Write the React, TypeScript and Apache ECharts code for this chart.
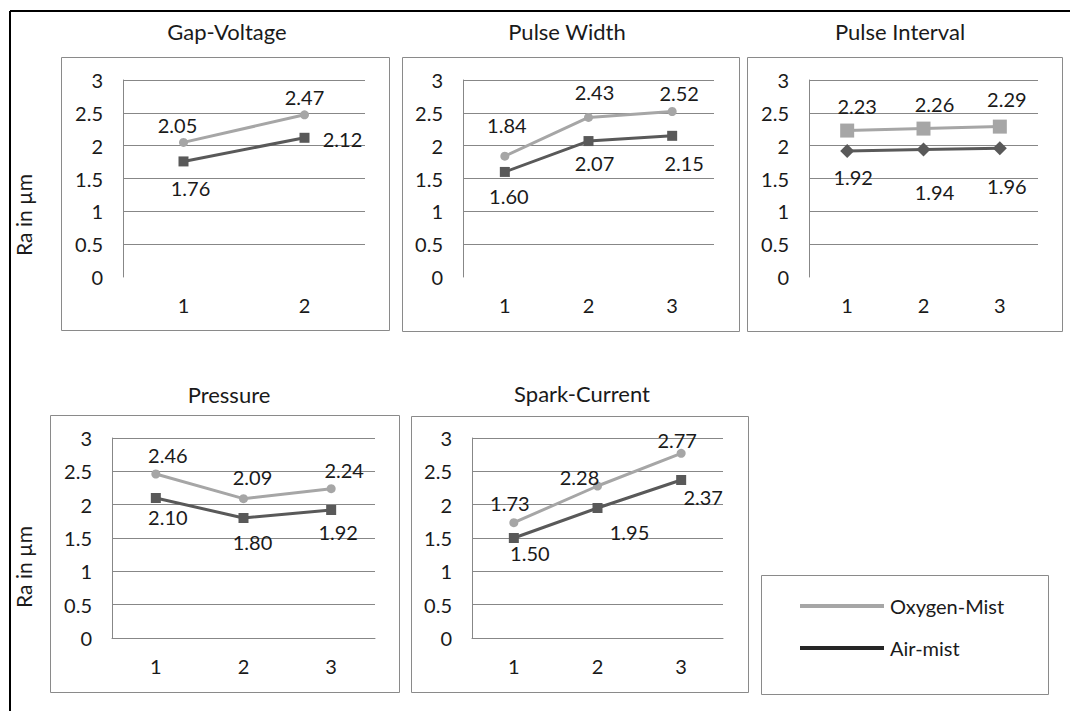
import React, { useEffect, useRef } from "react";
import * as echarts from "echarts";

const cats2 = ["1", "2"];
const cats3 = ["1", "2", "3"];

const gapOxygen = [2.05, 2.47];
const gapAir = [1.76, 2.12];
const pwOxygen = [1.84, 2.43, 2.52];
const pwAir = [1.6, 2.07, 2.15];
const piOxygen = [2.23, 2.26, 2.29];
const piAir = [1.92, 1.94, 1.96];
const prOxygen = [2.46, 2.09, 2.24];
const prAir = [2.1, 1.8, 1.92];
const scOxygen = [1.73, 2.28, 2.77];
const scAir = [1.5, 1.95, 2.37];

const seriesNames = ["Oxygen-Mist", "Air-mist"];
const titles = ["Gap-Voltage", "Pulse Width", "Pulse Interval", "Pressure", "Spark-Current"];
const yAxisTitle = "Ra in \u00b5m";

const FONT = "Lato";
const TXT = "#1a1a1a";
const OXY = "#a6a6a6";
const AIR = "#595959";
const GRIDC = "#878787";

type Panel = {
  title: string;
  cats: string[];
  oxy: number[];
  air: number[];
  grid: { left: number; top: number; width: number; height: number };
  box: [number, number, number, number];
  titleXY: [number, number];
  oxySym: string;
  airSym: string;
  oxySize: number;
  airSize: number;
  oxyOff: [number, number][];
  airOff: [number, number][];
  zeroLine: boolean;
};

const panels: Panel[] = [
  {
    title: titles[0], cats: cats2, oxy: gapOxygen, air: gapAir,
    grid: { left: 123, top: 80, width: 242, height: 197 },
    box: [61, 57, 328, 273], titleXY: [227, 31],
    oxySym: "circle", airSym: "rect", oxySize: 9, airSize: 10,
    oxyOff: [[-6, -17], [0, -18]], airOff: [[7, 27], [38, 1]], zeroLine: false,
  },
  {
    title: titles[1], cats: cats3, oxy: pwOxygen, air: pwAir,
    grid: { left: 463, top: 80, width: 251, height: 197 },
    box: [402, 57, 337, 274], titleXY: [567, 31],
    oxySym: "circle", airSym: "rect", oxySize: 9, airSize: 10,
    oxyOff: [[2, -31], [6, -25], [7, -19]], airOff: [[4, 24], [6, 22], [12, 27]], zeroLine: false,
  },
  {
    title: titles[2], cats: cats3, oxy: piOxygen, air: piAir,
    grid: { left: 809, top: 80, width: 229, height: 197 },
    box: [747, 57, 315, 274], titleXY: [900, 31],
    oxySym: "rect", airSym: "diamond", oxySize: 14, airSize: 14,
    oxyOff: [[10, -25], [11, -25], [7, -28]], airOff: [[6, 26], [11, 42], [7, 38]], zeroLine: false,
  },
  {
    title: titles[3], cats: cats3, oxy: prOxygen, air: prAir,
    grid: { left: 112, top: 438, width: 263, height: 200 },
    box: [50, 415, 349, 277], titleXY: [229, 394],
    oxySym: "circle", airSym: "rect", oxySize: 9, airSize: 10,
    oxyOff: [[12, -19], [9, -22], [13, -19]], airOff: [[12, 19], [9, 24], [7, 22]], zeroLine: true,
  },
  {
    title: titles[4], cats: cats3, oxy: scOxygen, air: scAir,
    grid: { left: 472, top: 438, width: 251, height: 200 },
    box: [411, 416, 337, 276], titleXY: [582, 393],
    oxySym: "circle", airSym: "rect", oxySize: 9, airSize: 10,
    oxyOff: [[-4, -20], [-18, -9], [-4, -13]], airOff: [[16, 15], [32, 24], [22, 17]], zeroLine: true,
  },
];

function buildOption() {
  const grid: any[] = [];
  const xAxis: any[] = [];
  const yAxis: any[] = [];
  const series: any[] = [];
  const graphic: any[] = [];

  // outer border (top and left only visible)
  graphic.push({ type: "line", shape: { x1: 10, y1: 11, x2: 1070, y2: 11 }, style: { stroke: "#000", lineWidth: 2 } });
  graphic.push({ type: "line", shape: { x1: 10, y1: 11, x2: 10, y2: 711 }, style: { stroke: "#000", lineWidth: 2 } });

  const labelBase = {
    show: true,
    position: "inside",
    fontFamily: FONT,
    fontSize: 20,
    color: TXT,
    formatter: (p: any) => Number(p.value).toFixed(2),
  };

  panels.forEach((p, i) => {
    grid.push({ ...p.grid });
    xAxis.push({
      type: "category",
      gridIndex: i,
      data: p.cats,
      boundaryGap: true,
      axisTick: { show: false },
      axisLine: { show: p.zeroLine, lineStyle: { color: GRIDC, width: 1 } },
      axisLabel: { fontFamily: FONT, fontSize: 20, color: TXT, margin: 18 },
    });
    yAxis.push({
      type: "value",
      gridIndex: i,
      min: 0,
      max: 3,
      interval: 0.5,
      axisTick: { show: false },
      axisLine: { show: true, lineStyle: { color: GRIDC, width: 1 } },
      axisLabel: { fontFamily: FONT, fontSize: 20, color: TXT, margin: 20 },
      splitLine: { show: true, showMinLine: p.zeroLine, lineStyle: { color: GRIDC, width: 1 } },
    });
    series.push({
      type: "line",
      name: seriesNames[0],
      xAxisIndex: i,
      yAxisIndex: i,
      data: p.oxy.map((v, k) => ({ value: v, label: { offset: p.oxyOff[k] } })),
      symbol: p.oxySym,
      symbolSize: p.oxySize,
      lineStyle: { color: OXY, width: 3 },
      itemStyle: { color: OXY },
      label: labelBase,
      z: 3,
    });
    series.push({
      type: "line",
      name: seriesNames[1],
      xAxisIndex: i,
      yAxisIndex: i,
      data: p.air.map((v, k) => ({ value: v, label: { offset: p.airOff[k] } })),
      symbol: p.airSym,
      symbolSize: p.airSize,
      lineStyle: { color: AIR, width: 3 },
      itemStyle: { color: AIR },
      label: labelBase,
      z: 4,
    });
    const [bx, by, bw, bh] = p.box;
    graphic.push({
      type: "rect",
      shape: { x: bx + 0.5, y: by + 0.5, width: bw, height: bh },
      style: { fill: "none", stroke: "#8a8a8a", lineWidth: 1 },
      silent: true,
      z: 0,
    });
    graphic.push({
      type: "text",
      x: p.titleXY[0],
      y: p.titleXY[1],
      style: { text: p.title, fontFamily: FONT, fontSize: 22, fill: TXT, align: "center", verticalAlign: "middle" },
    });
  });

  // y axis titles
  [[23, 215], [23, 567]].forEach(([x, y]) => {
    graphic.push({
      type: "text",
      x,
      y,
      rotation: Math.PI / 2,
      style: { text: yAxisTitle, fontFamily: FONT, fontSize: 21, fill: TXT, align: "center", verticalAlign: "middle" },
    });
  });

  // legend box
  graphic.push({
    type: "rect",
    shape: { x: 761.5, y: 575.5, width: 287, height: 119 },
    style: { fill: "none", stroke: "#8a8a8a", lineWidth: 1 },
    silent: true,
  });

  return {
    animation: false,
    backgroundColor: "#ffffff",
    grid,
    xAxis,
    yAxis,
    series,
    graphic,
    legend: {
      orient: "vertical",
      left: 795,
      top: 591,
      itemWidth: 84,
      itemHeight: 4,
      itemGap: 22,
      icon: "rect",
      textStyle: { fontFamily: FONT, fontSize: 20, color: TXT, padding: [0, 0, 0, 1] },
      data: [
        { name: seriesNames[0], itemStyle: { color: OXY } },
        { name: seriesNames[1], itemStyle: { color: "#262626" } },
      ],
      selectedMode: false,
    },
  };
}

export default function App() {
  const ref = useRef<HTMLDivElement>(null);
  useEffect(() => {
    if (!ref.current) return;
    const chart = echarts.init(ref.current, undefined, { renderer: "svg" });
    chart.setOption(buildOption() as any);
    return () => chart.dispose();
  }, []);
  return (
    <div
      ref={ref}
      style={{ position: "absolute", left: 0, top: 0, width: 1070, height: 711, background: "#fff" }}
    />
  );
}
